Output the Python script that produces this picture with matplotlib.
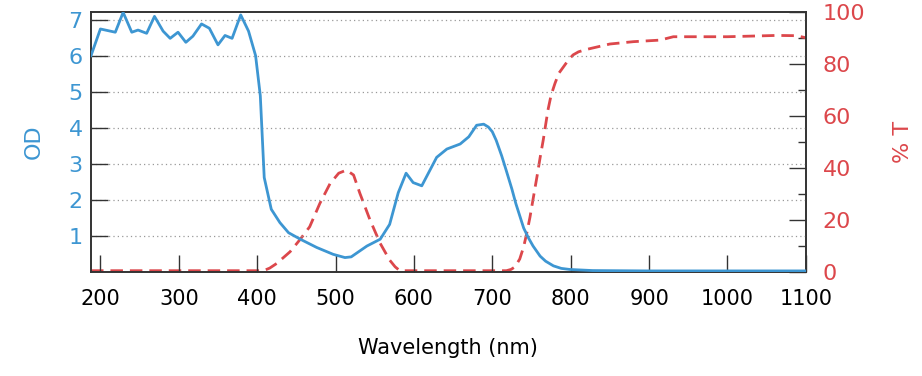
import matplotlib.pyplot as plt
from matplotlib.ticker import MultipleLocator

# optical density curve
od_nm = [188, 200, 219, 229, 240, 248, 259, 269, 280, 289, 299, 309, 318, 329,
         339, 350, 359, 368, 379, 389, 398, 404, 409, 418, 429, 440, 455, 476,
         497, 512, 520, 540, 557, 569, 580, 590, 599, 610, 629, 642, 659, 670,
         680, 689, 695, 700, 705, 712, 718, 725, 730, 735, 740, 746, 752, 761,
         768, 778, 788, 799, 828, 900, 1000, 1100]
od = [6.0, 6.74, 6.65, 7.2, 6.65, 6.71, 6.62, 7.09, 6.68, 6.48, 6.65, 6.37, 6.54, 6.88,
      6.76, 6.3, 6.56, 6.48, 7.13, 6.68, 6.0, 4.89, 2.62, 1.74, 1.37, 1.09, 0.91, 0.68,
      0.49, 0.40, 0.42, 0.72, 0.91, 1.32, 2.2, 2.74, 2.48, 2.39, 3.18, 3.41, 3.55, 3.75,
      4.07, 4.10, 4.02, 3.89, 3.65, 3.22, 2.80, 2.30, 1.90, 1.56, 1.22, 0.95, 0.72, 0.44,
      0.30, 0.17, 0.10, 0.07, 0.04, 0.03, 0.03, 0.03]

# transmission curve (%)
t_nm = [188, 300, 408, 416, 425, 442, 455, 467, 480, 493, 504, 514, 523, 531, 544, 557,
        569, 576, 582, 650, 718, 724, 729, 735, 740, 744, 748, 752, 757, 761, 765, 771,
        775, 780, 785, 791, 797, 803, 810, 820, 850, 880, 914, 931, 1000, 1063, 1088, 1100]
trans = [0.5, 0.5, 0.5, 1.5, 3.3, 7.8, 12.6, 17.4, 26.4, 34.0, 38.0, 39.2, 37.3, 30.3, 20.0,
         11.0, 4.6, 2.0, 0.5, 0.5, 0.5, 1.0, 2.0, 5.0, 9.7, 15.0, 21.0, 28.0, 36.7, 44.0,
         50.8, 62.3, 68.0, 72.6, 76.5, 79.0, 81.5, 83.5, 84.7, 85.6, 87.7, 88.6, 89.2, 90.5,
         90.5, 91.0, 90.9, 90.1]

blue = '#3d96d2'
red = '#dc474b'
plt.rcParams['font.family'] = 'DejaVu Sans'

fig = plt.figure(figsize=(9.22, 3.76), dpi=100)
ax = fig.add_axes([0.0987, 0.2766, 0.7753, 0.6914])
ax2 = ax.twinx()

ax.plot(od_nm, od, color=blue, lw=2.0, zorder=3)
ax2.plot(t_nm, trans, color=red, lw=2.0, dashes=(4.5, 2.5))

ax.set_xlim(188, 1100)
ax.set_ylim(0, 7.21)
ax2.set_ylim(0, 100)
ax.set_zorder(ax2.get_zorder() + 1)
ax.patch.set_visible(False)

ax.set_xticks(range(200, 1101, 100))
ax.set_yticks(range(1, 8))
ax.yaxis.grid(True, linestyle=(0, (1, 2.5)), color='#999999', lw=0.9)
ax2.set_yticks(range(0, 101, 20))
ax2.yaxis.set_minor_locator(MultipleLocator(10))

ax.tick_params(axis='x', direction='in', length=12, width=1, colors='#333333',
               labelcolor='black', labelsize=15, pad=12, top=False)
ax.tick_params(axis='y', direction='in', length=12, width=1, colors='#333333',
               labelcolor=blue, labelsize=16, pad=6)
ax2.tick_params(axis='y', which='major', direction='in', length=12, width=1,
                colors='#333333', labelcolor=red, labelsize=16, pad=12)
ax2.tick_params(axis='y', which='minor', direction='in', length=6, width=1,
                colors='#333333')

for a in (ax, ax2):
    for s in a.spines.values():
        s.set_color('#333333')
        s.set_linewidth(1.2)

ax.set_xlabel('Wavelength (nm)', fontsize=15, labelpad=21)
ax.set_ylabel('OD', color=blue, fontsize=16, labelpad=18)
ax2.set_ylabel('% T', color=red, fontsize=16, labelpad=20)

fig.savefig('out.png', dpi=100)
